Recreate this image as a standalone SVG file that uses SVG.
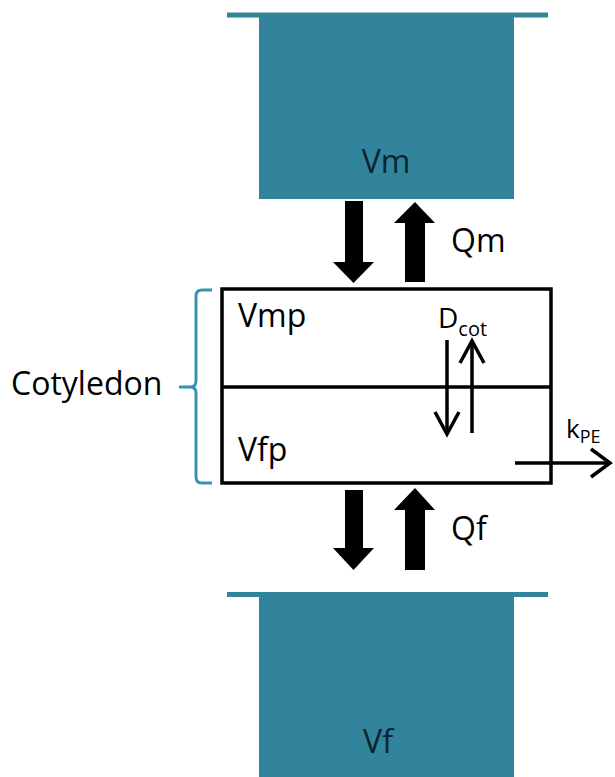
<svg xmlns="http://www.w3.org/2000/svg" width="615" height="777" viewBox="0 0 615 777">
<defs>
<style>
.tank{fill:#31849B}
.bar{stroke:#31849B;stroke-width:5}
.lbl{font-family:"Open Sans","DejaVu Sans",sans-serif;font-size:32px;fill:#000}
.tlbl{font-family:"Open Sans","DejaVu Sans",sans-serif;font-size:32px;fill:#0b2430}
.box{fill:none;stroke:#000;stroke-width:3.5}
.thick{fill:#000}
.thin{fill:none;stroke:#000;stroke-width:3.5;stroke-linecap:butt}
.head{fill:none;stroke:#000;stroke-width:3.5;stroke-linejoin:miter}
.brace{fill:none;stroke:#3A93AE;stroke-width:3}
</style>
</defs>
<g id="Vm">
<rect class="tank" x="259" y="15" width="255" height="184"/>
<line class="bar" x1="227" y1="15" x2="548" y2="15"/>
<text class="tlbl" x="386" y="173" text-anchor="middle">Vm</text>
</g>
<g id="Vf">
<rect class="tank" x="259" y="594" width="255" height="183"/>
<line class="bar" x1="227" y1="594.5" x2="548" y2="594.5"/>
<text class="tlbl" x="378" y="753" text-anchor="middle">Vf</text>
</g>
<g id="cotyledon">
<rect class="box" x="222" y="289" width="329" height="194"/>
<line class="box" x1="222" y1="387" x2="551" y2="387"/>
<text class="lbl" x="238" y="327">Vmp</text>
<text class="lbl" x="238" y="461">Vfp</text>
<path class="brace" d="M212,290 L202,290 Q196,290 196,296 L196,381 Q196,387 190,387 L179,387 M190,387 Q196,387 196,393 L196,477 Q196,483 202,483 L212,483"/>
<text class="lbl" x="11" y="395">Cotyledon</text>
</g>
<g id="connectors">
<path class="thick" d="M345,201 L363,201 L363,262 L374,262 L353.5,283 L333,262 L345,262 Z"/>
<path class="thick" d="M405,282 L425,282 L425,223 L435,223 L415,202 L394,223 L405,223 Z"/>
<path class="thick" d="M345,490 L363,490 L363,548 L374,548 L353.5,570 L333,548 L345,548 Z"/>
<path class="thick" d="M405,570 L425,570 L425,510 L435,510 L415,488 L394,510 L405,510 Z"/>
<line class="thin" x1="447" y1="340" x2="447" y2="434"/>
<polyline class="head" points="435,412 447,434 459,412"/>
<line class="thin" x1="472" y1="433" x2="472" y2="341"/>
<polyline class="head" points="460,363 472,341 484,363"/>
<line class="thin" x1="515" y1="463" x2="610" y2="463"/>
<polyline class="head" points="591,449 610,463 591,477"/>
<text class="lbl" x="451" y="252">Qm</text>
<text class="lbl" x="451" y="540">Qf</text>
<text class="lbl" x="438" y="328" style="font-size:28px">D<tspan dy="8" style="font-size:20px">cot</tspan></text>
<text class="lbl" x="566" y="438" style="font-size:26px">k<tspan dy="5" style="font-size:18px">PE</tspan></text>
</g>
</svg>
